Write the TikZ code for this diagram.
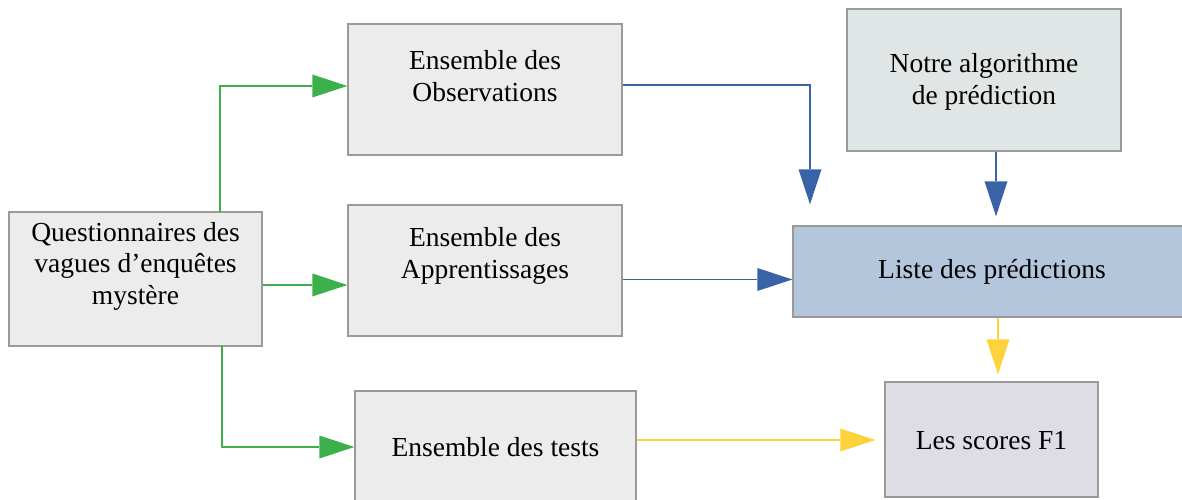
\documentclass[tikz,border=0pt]{standalone}
\usepackage{fontspec}
\setmainfont{Liberation Serif}
\usetikzlibrary{arrows.meta}
\definecolor{boxgray}{HTML}{ECECEC}
\definecolor{boxalgo}{HTML}{DFE6E5}
\definecolor{boxliste}{HTML}{B4C6DC}
\definecolor{boxscore}{HTML}{DEDDE6}
\definecolor{edgegray}{HTML}{9A9A9A}
\definecolor{agreen}{HTML}{3CB04B}
\definecolor{ablue}{HTML}{3A62A7}
\definecolor{ayellow}{HTML}{FDD23A}
\tikzset{
  box/.style={draw=edgegray, line width=1.3pt, rectangle, inner sep=0pt},
  txt/.style={align=center, font=\fontsize{27.5}{31.5}\selectfont, inner sep=0pt},
  conn/.style={line width=1.1pt, -{Triangle[length=35pt,width=23pt,line width=0pt]}},
  gconn/.style={conn, draw=agreen},
  bconn/.style={conn, draw=ablue},
  yconn/.style={conn, draw=ayellow}
}
\begin{document}
\begin{tikzpicture}[x=1pt,y=1pt]
\useasboundingbox (0,0) rectangle (1182,499);
% boxes
\node[box, fill=boxgray, minimum width=253pt, minimum height=134pt] (q) at (135.5,220) {};
\node[txt] at (135.5,233) {Questionnaires des\\vagues d’enquêtes\\mystère};
\node[box, fill=boxgray, minimum width=274pt, minimum height=131pt] (obs) at (485,409.5) {};
\node[txt] at (485,423) {Ensemble des\\Observations};
\node[box, fill=boxgray, minimum width=274pt, minimum height=131pt] (appr) at (485,228.5) {};
\node[txt] at (485,243) {Ensemble des\\Apprentissages};
\node[box, fill=boxgray, minimum width=281pt, minimum height=116pt] (tests) at (495.5,50) {};
\node[txt] at (495.5,52) {Ensemble des tests};
\node[box, fill=boxalgo, minimum width=274pt, minimum height=142pt] (algo) at (984,419) {};
\node[txt] at (984,417) {Notre algorithme\\de prédiction};
\node[box, fill=boxliste, minimum width=397pt, minimum height=91pt] (liste) at (991.5,227.5) {};
\node[txt] at (992,227) {Liste des prédictions};
\node[box, fill=boxscore, minimum width=213pt, minimum height=115pt] (scores) at (991.5,59.5) {};
\node[txt] at (991.5,58) {Les scores F1};
% helper coordinates
\coordinate (qtop) at (220,287);
\coordinate (qbot) at (222,153);
\coordinate (bend) at (810,414);
% green connectors
\draw[gconn] (qtop) |- ([yshift=3.5pt]obs.west);
\draw[gconn] ([yshift=-6pt]q.east) -- ([yshift=-14.5pt]appr.west);
\draw[gconn] (qbot) |- ([yshift=2pt]tests.west);
% blue connectors
\draw[bconn] ([yshift=4.5pt]obs.east) -- (bend) -- ([shift={(-181.5pt,21pt)}]liste.north);
\draw[bconn] ([xshift=12pt]algo.south) -- ([xshift=4.5pt,yshift=9pt]liste.north);
\draw[bconn] ([yshift=-9pt]appr.east) -- ([yshift=-8pt]liste.west);
% yellow connectors
\draw[yconn] ([xshift=6.5pt]liste.south) -- ([xshift=6.5pt,yshift=7pt]scores.north);
\draw[yconn] ([yshift=9pt]tests.east) -- ([xshift=-9pt,yshift=-0.5pt]scores.west);
\end{tikzpicture}
\end{document}
